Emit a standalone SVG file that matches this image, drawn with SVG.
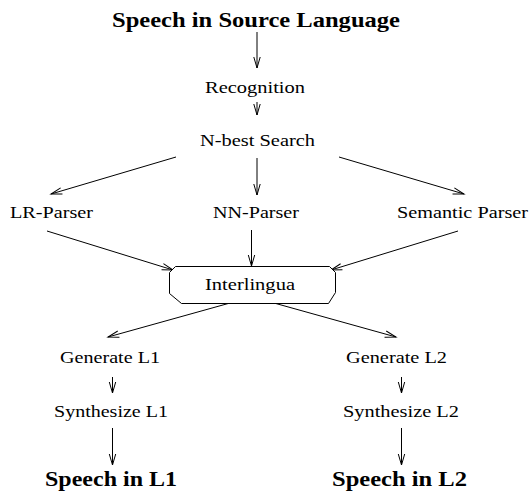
<svg xmlns="http://www.w3.org/2000/svg" width="531" height="491" viewBox="0 0 531 491">
<defs>
<style>
.t{font-family:"Liberation Serif","Times New Roman",serif;font-size:17px;fill:#000}
.b{font-family:"Liberation Serif","Times New Roman",serif;font-size:21px;font-weight:bold;fill:#000}
.c line{stroke:#000;stroke-width:1;marker-end:url(#ah)}
.box{fill:#fff;stroke:#000;stroke-width:1}
</style>
<marker id="ah" viewBox="-12 -5 13 10" refX="0" refY="0" markerWidth="13" markerHeight="10" markerUnits="userSpaceOnUse" orient="auto" overflow="visible">
<path d="M-11,-3.2 L0,0 L-11,3.2" fill="none" stroke="#000" stroke-width="1"/>
</marker>
</defs>
<rect width="531" height="491" fill="#fff"/>
<g id="connectors" class="c">
<line x1="257" y1="32" x2="257" y2="68"/>
<line x1="257" y1="102" x2="257" y2="115"/>
<line x1="176" y1="157" x2="51" y2="194"/>
<line x1="257" y1="158" x2="257" y2="195"/>
<line x1="339" y1="157" x2="464" y2="194"/>
<line x1="47" y1="231" x2="173" y2="270"/>
<line x1="251.5" y1="230" x2="251.5" y2="266"/>
<line x1="458" y1="231" x2="331" y2="270"/>
<line x1="230" y1="303" x2="108" y2="337"/>
<line x1="274" y1="303" x2="396" y2="337"/>
<line x1="112.5" y1="377" x2="112.5" y2="393"/>
<line x1="401.5" y1="377" x2="401.5" y2="393"/>
<line x1="112.5" y1="428" x2="112.5" y2="465"/>
<line x1="401.5" y1="428" x2="401.5" y2="465"/>
</g>
<g id="n-source"><text class="b" x="112" y="27" textLength="288" lengthAdjust="spacingAndGlyphs">Speech in Source Language</text></g>
<g id="n-recognition"><text class="t" x="205" y="93" textLength="100" lengthAdjust="spacingAndGlyphs">Recognition</text></g>
<g id="n-nbest"><text class="t" x="200" y="146" textLength="115" lengthAdjust="spacingAndGlyphs">N-best Search</text></g>
<g id="n-lr"><text class="t" x="10" y="218" textLength="83" lengthAdjust="spacingAndGlyphs">LR-Parser</text></g>
<g id="n-nn"><text class="t" x="213" y="218" textLength="86" lengthAdjust="spacingAndGlyphs">NN-Parser</text></g>
<g id="n-sem"><text class="t" x="397" y="218" textLength="131" lengthAdjust="spacingAndGlyphs">Semantic Parser</text></g>
<g id="n-inter">
<path class="box" d="M175.5,266.5 L329.5,266.5 L335.5,272.5 L335.5,292.5 L328.5,303.5 L181.5,303.5 L169.5,293.5 L169.5,272.5 Z"/>
<text class="t" x="205" y="290" textLength="90" lengthAdjust="spacingAndGlyphs">Interlingua</text>
</g>
<g id="n-gen1"><text class="t" x="60" y="363" textLength="100" lengthAdjust="spacingAndGlyphs">Generate L1</text></g>
<g id="n-gen2"><text class="t" x="346" y="363" textLength="101" lengthAdjust="spacingAndGlyphs">Generate L2</text></g>
<g id="n-syn1"><text class="t" x="54" y="417" textLength="114" lengthAdjust="spacingAndGlyphs">Synthesize L1</text></g>
<g id="n-syn2"><text class="t" x="343" y="417" textLength="116" lengthAdjust="spacingAndGlyphs">Synthesize L2</text></g>
<g id="n-out1"><text class="b" x="45" y="486" textLength="132" lengthAdjust="spacingAndGlyphs">Speech in L1</text></g>
<g id="n-out2"><text class="b" x="332" y="486" textLength="135" lengthAdjust="spacingAndGlyphs">Speech in L2</text></g>
</svg>
